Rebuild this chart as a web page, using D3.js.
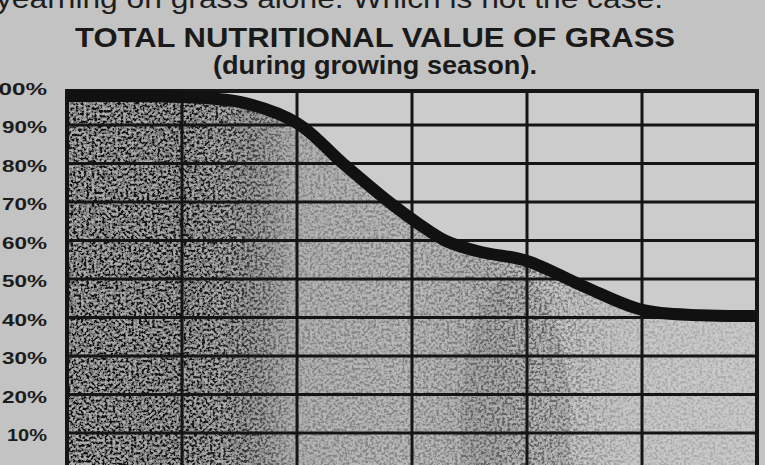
<!DOCTYPE html>
<html>
<head>
<meta charset="utf-8">
<script src="https://cdn.jsdelivr.net/npm/d3@7"></script>
<style>
  html, body { margin: 0; padding: 0; background: #c3c3c3; }
  svg { display: block; }
</style>
</head>
<body>
<div id="chart"></div>
<script>
// position along the growing season, in grid columns (0 = start, 6 = end)
var seasonPos = [0, 0.5, 1, 1.5, 2, 2.4, 2.8, 3.05, 3.3, 3.6, 4, 4.5, 5, 5.5, 6];
// total nutritional value, percent
var nutritionPct = [97.5, 97.5, 97.3, 96, 90.5, 80, 70, 64.5, 59.8, 57, 54.7, 48, 42, 40.6, 40.4];

var yTicks = [100, 90, 80, 70, 60, 50, 40, 30, 20, 10];
var yTickLabels = ["100%", "90%", "80%", "70%", "60%", "50%", "40%", "30%", "20%", "10%"];
var columns = [0, 1, 2, 3, 4, 5, 6];

var width = 765, height = 465;
var plotLeft = 67, plotRight = 757, plotTop = 91;

var svg = d3.select("#chart").append("svg")
    .attr("width", width)
    .attr("height", height);

var x = d3.scaleLinear().domain([0, 6]).range([plotLeft, plotRight]);
var y = d3.scaleLinear().domain([0, 100]).range([471.5, 86.5]);

var defs = svg.append("defs");

// horizontal darkness of the stippled shading
var grad = defs.append("linearGradient")
    .attr("id", "shade")
    .attr("gradientUnits", "userSpaceOnUse")
    .attr("x1", plotLeft).attr("x2", plotRight)
    .attr("y1", 0).attr("y2", 0);
[[0, "#303030"], [0.18, "#363636"], [0.26, "#626262"], [0.33, "#a4a4a4"], [0.5, "#aaaaaa"],
 [0.62, "#9c9c9c"], [0.72, "#b4b4b4"], [0.82, "#c2c2c2"], [1, "#c6c6c6"]].forEach(function(s) {
    grad.append("stop").attr("offset", s[0]).attr("stop-color", s[1]);
});

var mgrad = defs.append("linearGradient")
    .attr("id", "noiseAmt")
    .attr("gradientUnits", "userSpaceOnUse")
    .attr("x1", plotLeft).attr("x2", plotRight)
    .attr("y1", 0).attr("y2", 0);
[[0, "#a0a0a0"], [0.22, "#909090"], [0.33, "#303030"], [0.55, "#383838"], [0.68, "#5a5a5a"], [0.8, "#242424"], [1, "#1a1a1a"]]
  .forEach(function(s) {
    mgrad.append("stop").attr("offset", s[0]).attr("stop-color", s[1]);
});

var filt = defs.append("filter").attr("id", "grain")
    .attr("x", 0).attr("y", 0).attr("width", 1).attr("height", 1);
filt.append("feTurbulence")
    .attr("type", "fractalNoise")
    .attr("baseFrequency", "0.38")
    .attr("numOctaves", 2)
    .attr("seed", 11);
filt.append("feColorMatrix")
    .attr("type", "matrix")
    .attr("values", "3.4 0 0 0 -1.3  3.4 0 0 0 -1.3  3.4 0 0 0 -1.3  0 0 0 0 1");

var line = d3.line()
    .x(function(d, i) { return x(seasonPos[i]); })
    .y(function(d) { return y(d); })
    .curve(d3.curveCatmullRom.alpha(0.5));

var area = d3.area()
    .x(function(d, i) { return x(seasonPos[i]); })
    .y0(y(0))
    .y1(function(d) { return y(d); })
    .curve(d3.curveCatmullRom.alpha(0.5));

defs.append("clipPath").attr("id", "under")
  .append("path").attr("d", area(nutritionPct));

var mask = defs.append("mask").attr("id", "grainMask");
mask.append("path").attr("d", area(nutritionPct)).attr("fill", "url(#noiseAmt)");

// plot background
svg.append("rect")
    .attr("x", plotLeft).attr("y", plotTop)
    .attr("width", plotRight - plotLeft).attr("height", height - plotTop)
    .attr("fill", "#cccccc");

// shaded area under the curve
svg.append("path")
    .attr("d", area(nutritionPct))
    .attr("fill", "url(#shade)");

svg.append("ellipse")
    .attr("clip-path", "url(#under)")
    .attr("cx", x(3.9)).attr("cy", y(12))
    .attr("rx", 55).attr("ry", 150)
    .attr("fill", "#6a6a6a")
    .attr("opacity", 0.3);

svg.append("rect")
    .attr("x", plotLeft).attr("y", plotTop)
    .attr("width", plotRight - plotLeft).attr("height", height - plotTop)
    .attr("filter", "url(#grain)")
    .attr("mask", "url(#grainMask)");

// grid
svg.append("g")
  .selectAll("line")
  .data(yTicks.slice(1))
  .join("line")
    .attr("x1", plotLeft).attr("x2", plotRight)
    .attr("y1", function(d) { return y(d); })
    .attr("y2", function(d) { return y(d); })
    .attr("stroke", "#151515")
    .attr("stroke-width", 3);

svg.append("g")
  .selectAll("line")
  .data(columns)
  .join("line")
    .attr("x1", function(d) { return x(d); })
    .attr("x2", function(d) { return x(d); })
    .attr("y1", plotTop).attr("y2", height)
    .attr("stroke", "#151515")
    .attr("stroke-width", function(d) { return (d == 0 || d == 6) ? 4 : 3; });

svg.append("line")
    .attr("x1", plotLeft - 2).attr("x2", plotRight + 2)
    .attr("y1", plotTop).attr("y2", plotTop)
    .attr("stroke", "#151515")
    .attr("stroke-width", 4);

// curve
svg.append("path")
    .attr("d", line(nutritionPct))
    .attr("fill", "none")
    .attr("stroke", "#111")
    .attr("stroke-width", 12)
    .attr("stroke-linecap", "butt");

// y labels
svg.append("g")
  .selectAll("text")
  .data(yTicks)
  .join("text")
    .attr("x", 47)
    .attr("y", function(d) { return y(d) + 2; })
    .attr("dy", "0.36em")
    .attr("text-anchor", "end")
    .attr("font-family", "'Liberation Sans', Arial, sans-serif")
    .attr("font-weight", "bold")
    .attr("font-size", "17px")
    .attr("fill", "#1c1c1c")
    .attr("textLength", function(d) { return d == 100 ? 62 : (d == 10 ? 40 : 45); })
    .attr("lengthAdjust", "spacingAndGlyphs")
    .text(function(d, i) { return yTickLabels[i]; });

// titles
svg.append("text")
    .attr("x", -4).attr("y", 8)
    .attr("font-family", "'Liberation Sans', Arial, sans-serif")
    .attr("font-size", "27px")
    .attr("fill", "#1e1e1e")
    .attr("textLength", 667)
    .attr("lengthAdjust", "spacingAndGlyphs")
    .text("yearning on grass alone. Which is not the case.");

svg.append("text")
    .attr("x", 75).attr("y", 47)
    .attr("font-family", "'Liberation Sans', Arial, sans-serif")
    .attr("font-weight", "bold")
    .attr("font-size", "28px")
    .attr("fill", "#1a1a1a")
    .attr("textLength", 600)
    .attr("lengthAdjust", "spacingAndGlyphs")
    .text("TOTAL NUTRITIONAL VALUE OF GRASS");

svg.append("text")
    .attr("x", 213).attr("y", 74)
    .attr("font-family", "'Liberation Sans', Arial, sans-serif")
    .attr("font-weight", "bold")
    .attr("font-size", "25px")
    .attr("fill", "#1a1a1a")
    .attr("textLength", 324)
    .attr("lengthAdjust", "spacingAndGlyphs")
    .text("(during growing season).");
</script>
</body>
</html>
